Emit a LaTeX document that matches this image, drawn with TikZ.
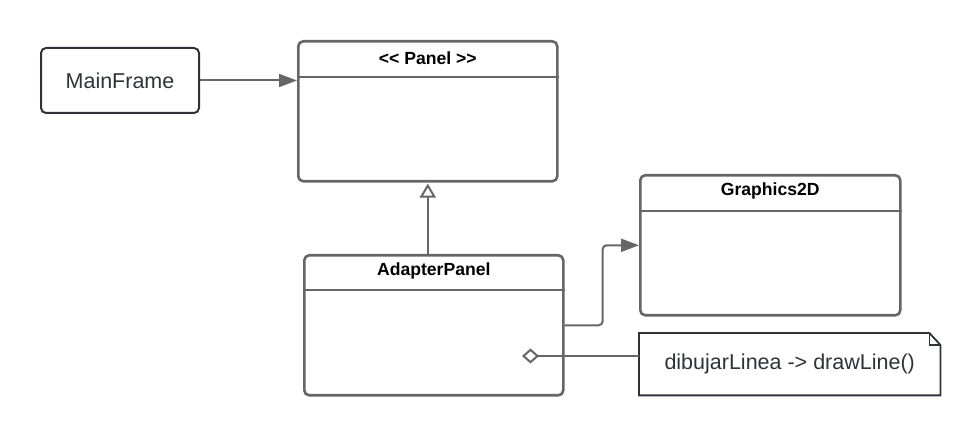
\documentclass[tikz,border=0pt]{standalone}
\usepackage{fontspec}
\setmainfont{Liberation Sans}
\usetikzlibrary{arrows.meta,calc}
\definecolor{boxgray}{HTML}{666666}
\definecolor{darkline}{HTML}{2F3238}
\tikzset{
  classbox/.style={draw=boxgray, line width=2.6pt, rounded corners=5pt, anchor=north west, inner sep=0pt},
  plainbox/.style={draw=darkline, line width=2pt, rounded corners=5pt, anchor=north west, inner sep=0pt,
    font=\fontsize{21.5}{24}\selectfont, text=darkline},
  titletext/.style={font=\bfseries\fontsize{17.6}{20}\selectfont, text=black, inner sep=0pt},
  hdr/.style={draw=boxgray, line width=2.6pt},
  conn/.style={draw=boxgray, line width=2pt},
  notetext/.style={font=\fontsize{21.5}{24}\selectfont, text=darkline, inner sep=0pt},
}
\begin{document}
\begin{tikzpicture}[x=1pt,y=-1pt]
\useasboundingbox (0,0) rectangle (980,435);
% MainFrame
\node[plainbox, minimum width=158pt, minimum height=65pt] (main) at (40,47) {MainFrame};
% Panel
\node[classbox, minimum width=259pt, minimum height=140pt] (panel) at (297,40) {};
\draw[hdr] ([yshift=-37pt]panel.north west) -- ([yshift=-37pt]panel.north east);
\node[titletext] (paneltitle) at ($(panel.north)+(0,18)$) {{<}{<} Panel {>}{>}};
% AdapterPanel
\node[classbox, minimum width=259pt, minimum height=140pt] (adapter) at (303,254) {};
\draw[hdr] ([yshift=-36pt]adapter.north west) -- ([yshift=-36pt]adapter.north east);
\node[titletext] (adaptertitle) at ($(adapter.north)+(0,17)$) {AdapterPanel};
% Graphics2D
\node[classbox, minimum width=260pt, minimum height=140pt] (g2d) at (639,174) {};
\draw[hdr] ([yshift=-37pt]g2d.north west) -- ([yshift=-37pt]g2d.north east);
\node[titletext] (g2dtitle) at ($(g2d.north)+(0,17)$) {Graphics2D};
% Note
\node[anchor=north west, minimum width=301pt, minimum height=62pt, inner sep=0pt] (note) at (639,333) {};
\draw[draw=darkline, line width=1.8pt, line join=miter]
  (note.north west) -- ([xshift=-11pt]note.north east) -- ([yshift=-12pt]note.north east)
  -- (note.south east) -- (note.south west) -- cycle;
\draw[draw=darkline, line width=1.5pt] ([xshift=-11pt]note.north east) |- ([yshift=-12pt]note.north east);
\node[notetext] (notelabel) at (note.center) {dibujarLinea -> drawLine()};
% connectors
\draw[conn, -{Triangle[length=18pt,width=13pt]}] (main.east) -- (main.east -| panel.west);
\draw[conn, -{Triangle[open,length=14pt,width=16pt]}] (adapter.north -| panel.south) -- ([yshift=-1pt]panel.south);
\draw[conn, rounded corners=4pt, -{Triangle[length=18pt,width=13pt]}] (adapter.east) -- ++(38,0) |- (g2d.west);
\coordinate (dia) at (522,356);
\draw[conn, {Diamond[open,length=17pt,width=15pt]}-] (dia) -- (note.west |- dia);
\end{tikzpicture}
\end{document}
